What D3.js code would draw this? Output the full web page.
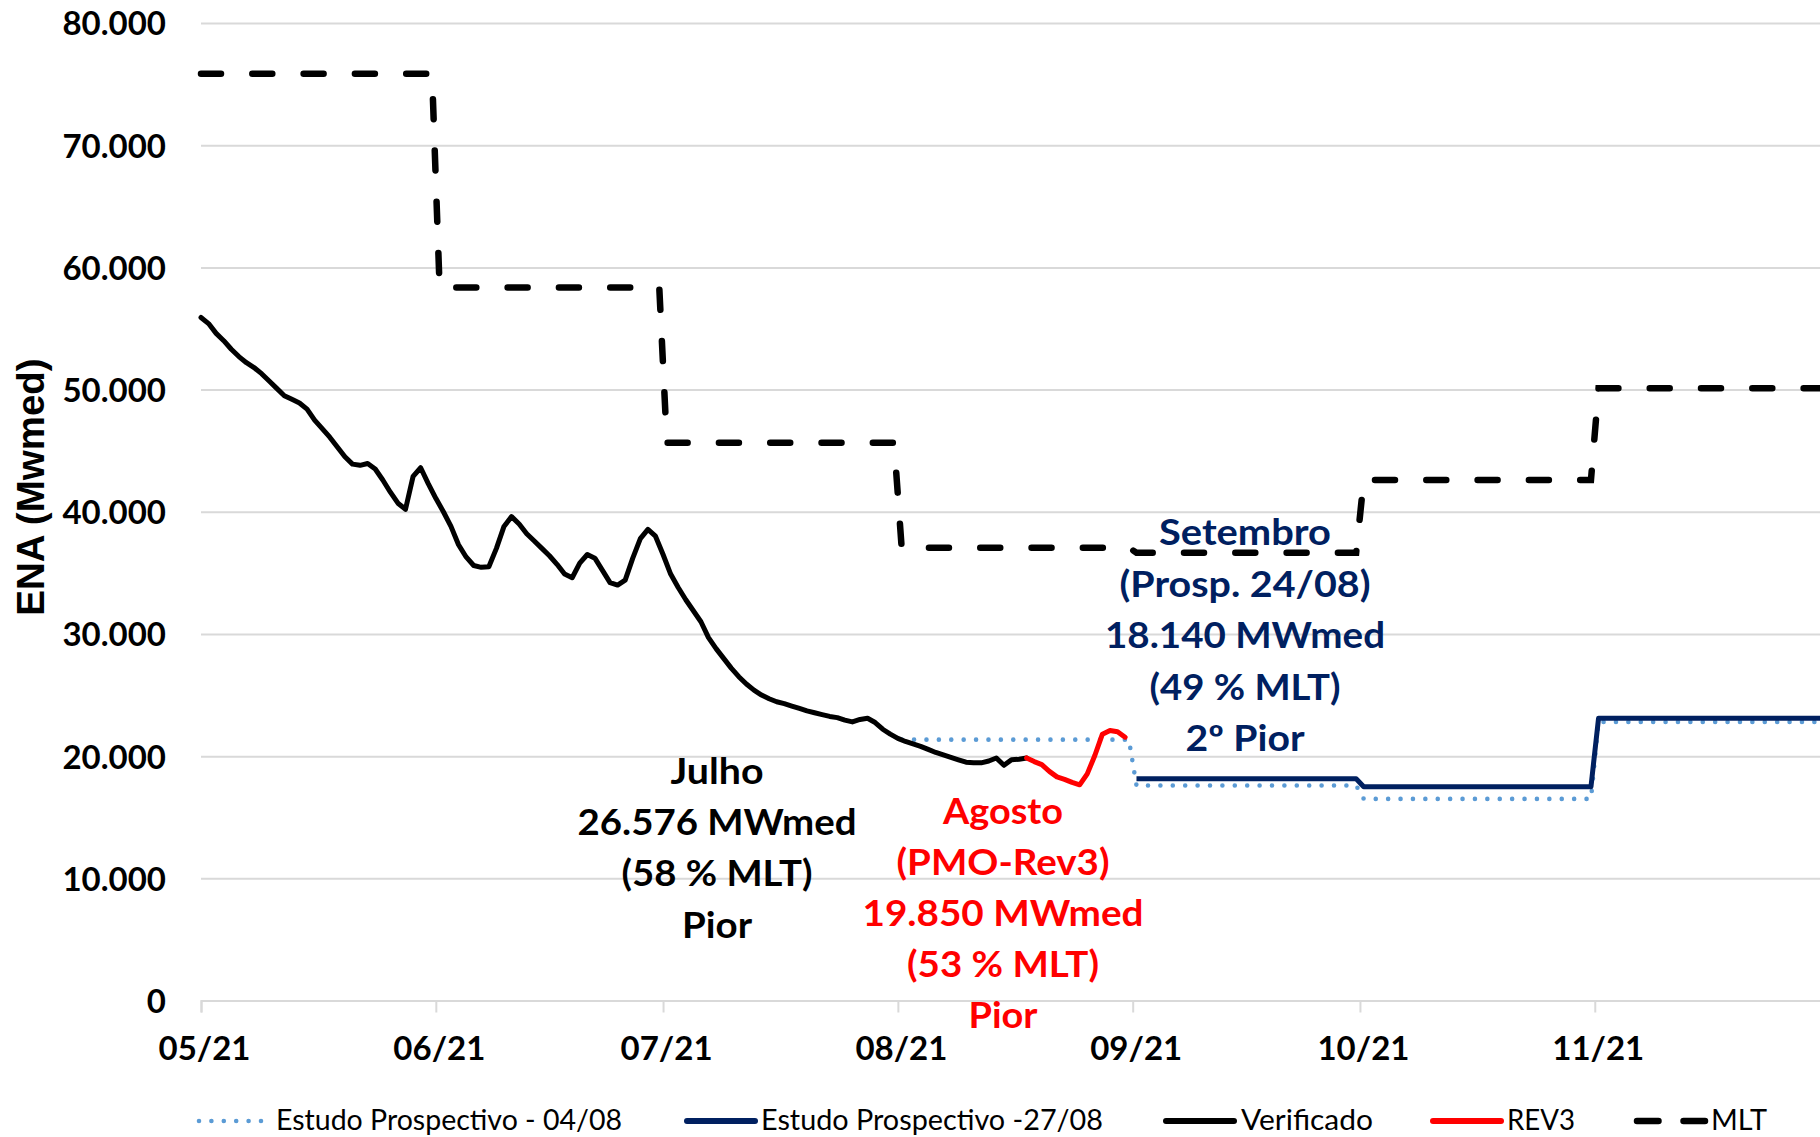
<!DOCTYPE html>
<html>
<head>
<meta charset="utf-8">
<script src="https://cdn.jsdelivr.net/npm/d3@7"></script>
<style>
  html, body { margin: 0; padding: 0; background: #ffffff; }
  svg { display: block; }
</style>
</head>
<body>
<svg id="chart" width="1820" height="1137"></svg>
<script>
// ---------------- DATA ----------------
const monthLabels = ["05/21", "06/21", "07/21", "08/21", "09/21", "10/21", "11/21"];
const yTickValues = [0, 10000, 20000, 30000, 40000, 50000, 60000, 70000, 80000];

// Verificado (daily, from 2021-05-01)
const verificadoStart = "2021-05-01";
const verificado = [
  55900, 55400, 54600, 54000, 53300, 52700, 52200, 51800, 51300, 50700,
  50100, 49500, 49200, 48900, 48400, 47500, 46800, 46100, 45300, 44500,
  43900, 43800, 43950, 43500, 42600, 41600, 40700, 40200, 42900, 43600,
  42300, 41100, 40000, 38800, 37300, 36300, 35600, 35450, 35500, 37000,
  38800, 39600, 39000, 38200, 37600, 37000, 36400, 35700, 34900, 34600,
  35800, 36500, 36200, 35200, 34200, 34000, 34400, 36200, 37800, 38550,
  38000, 36500, 34900, 33800, 32800, 31900, 31000, 29700, 28800, 28000,
  27200, 26500, 25900, 25400, 25000, 24700, 24450, 24300, 24100, 23900,
  23700, 23550, 23400, 23250, 23150, 22950, 22800, 23000, 23100, 22750,
  22200, 21800, 21450, 21200, 21000, 20800, 20550, 20300, 20100, 19900,
  19700, 19500, 19450, 19450, 19600, 19850, 19250, 19700, 19750, 19850
];

// REV3 (daily, from 2021-08-18)
const rev3Start = "2021-08-18";
const rev3 = [19850, 19550, 19300, 18750, 18300, 18100, 17850, 17650, 18550, 20050, 21800, 22100, 22000, 21550];

// MLT (monthly, May..Nov)
const mltMonths = ["2021-05", "2021-06", "2021-07", "2021-08", "2021-09", "2021-10", "2021-11"];
const mltValues = [75850, 58350, 45650, 37050, 36650, 42600, 50100];

// Estudo Prospectivo - 04/08 (monthly, Aug..Nov)
const prosp0408Months = ["2021-08", "2021-09", "2021-10", "2021-11"];
const prosp0408Values = [21350, 17600, 16500, 22800];

// Estudo Prospectivo -27/08 (monthly, Sep..Nov)
const prosp2708Months = ["2021-09", "2021-10", "2021-11"];
const prosp2708Values = [18140, 17500, 23100];

const legendNames = ["Estudo Prospectivo - 04/08", "Estudo Prospectivo -27/08", "Verificado", "REV3", "MLT"];

const julhoLines = ["Julho", "26.576 MWmed", "(58 % MLT)", "Pior"];
const agostoLines = ["Agosto", "(PMO-Rev3)", "19.850 MWmed", "(53 % MLT)", "Pior"];
const setembroLines = ["Setembro", "(Prosp. 24/08)", "18.140 MWmed", "(49 % MLT)", "2º Pior"];

const yTitle = "ENA (Mwmed)";

// ---------------- STYLE / LAYOUT ----------------
const W = 1820, H = 1137;
const plot = { left: 201, right: 1822, top: 23, bottom: 1000.5 };
const C = {
  grid: "#d9d9d9", black: "#000000", red: "#ff0000", navy: "#002060", lightBlue: "#5b9bd5"
};
const FONT = "Lato, 'Open Sans', sans-serif";

const svg = d3.select("#chart");
svg.append("rect").attr("width", W).attr("height", H).attr("fill", "#fff");

const parseDay = d3.utcParse("%Y-%m-%d");
const parseMonth = d3.utcParse("%Y-%m");
const DAY = 86400000;

const x = d3.scaleUtc()
  .domain([parseDay("2021-05-01"), parseDay("2021-12-01")])
  .range([plot.left, plot.right]);
const y = d3.scaleLinear().domain([0, 80000]).range([plot.bottom, plot.top]);

const locale = d3.formatLocale({ decimal: ",", thousands: ".", grouping: [3], currency: ["", ""] });
const fmt = locale.format(",d");

// Y axis + gridlines
const yAxis = d3.axisLeft(y)
  .tickValues(yTickValues)
  .tickSize(-(plot.right - plot.left))
  .tickPadding(35)
  .tickFormat(fmt);
const gy = svg.append("g").attr("transform", `translate(${plot.left},0)`).call(yAxis);
gy.select(".domain").remove();
gy.selectAll(".tick line").attr("stroke", C.grid).attr("stroke-width", 2);
gy.selectAll(".tick text")
  .attr("font-family", FONT).attr("font-weight", 700).attr("font-size", 33)
  .attr("fill", "#000").attr("dy", "0.36em");

// X axis
const monthDates = monthLabels.map((_, i) => d3.utcMonth.offset(parseDay("2021-05-01"), i));
const xAxis = d3.axisBottom(x)
  .tickValues(monthDates)
  .tickSize(12)
  .tickFormat((d, i) => monthLabels[i]);
const gx = svg.append("g").attr("transform", `translate(0,${plot.bottom})`).call(xAxis);
gx.select(".domain").attr("stroke", C.grid).attr("stroke-width", 2);
gx.selectAll(".tick line").attr("stroke", C.grid).attr("stroke-width", 2);
gx.selectAll(".tick text")
  .attr("font-family", FONT).attr("font-weight", 700).attr("font-size", 33)
  .attr("fill", "#000").attr("y", 47.5).attr("dy", "0.36em").attr("dx", 3);

// Y title
svg.append("text")
  .attr("transform", `translate(44,487) rotate(-90)`)
  .attr("text-anchor", "middle")
  .attr("font-family", "'Liberation Sans', Arial, sans-serif")
  .attr("font-weight", 700).attr("font-size", 38.5)
  .text(yTitle);

// ---------------- SERIES ----------------
const line = d3.line().x(d => x(d[0])).y(d => y(d[1]));

function dailyPoints(start, values) {
  const s = parseDay(start);
  return values.map((v, i) => [new Date(s.getTime() + i * DAY), v]);
}
function stepPoints(months, values, firstOffsetDays) {
  const pts = [];
  months.forEach((m, i) => {
    const s = parseMonth(m);
    const e = d3.utcMonth.offset(s, 1);
    const off = (i === 0) ? firstOffsetDays : 0.5;
    pts.push([new Date(s.getTime() + off * DAY), values[i]]);
    pts.push([new Date(e.getTime() - 0.5 * DAY), values[i]]);
  });
  const lastMonthEnd = d3.utcMonth.offset(parseMonth(months[months.length - 1]), 1);
  pts[pts.length - 1] = [lastMonthEnd, values[values.length - 1]];
  return pts;
}

const g = svg.append("g").attr("fill", "none");

// MLT
g.append("path")
  .datum(stepPoints(mltMonths, mltValues, 0))
  .attr("d", line)
  .attr("stroke", C.black).attr("stroke-width", 6.5)
  .attr("stroke-dasharray", "20 31.3").attr("stroke-linecap", "round");

// Prospectivo 04/08 (dotted)
g.append("path")
  .datum(stepPoints(prosp0408Months, prosp0408Values, 0.5))
  .attr("d", line)
  .attr("stroke", C.lightBlue).attr("stroke-width", 4.6)
  .attr("stroke-dasharray", "0 12.4").attr("stroke-linecap", "round");

// Prospectivo 27/08 (navy)
g.append("path")
  .datum(stepPoints(prosp2708Months, prosp2708Values, 0.5))
  .attr("d", line)
  .attr("stroke", C.navy).attr("stroke-width", 5)
  .attr("stroke-linejoin", "round");

// Verificado
g.append("path")
  .datum(dailyPoints(verificadoStart, verificado))
  .attr("d", line)
  .attr("stroke", C.black).attr("stroke-width", 5)
  .attr("stroke-linejoin", "round").attr("stroke-linecap", "round");

// REV3
g.append("path")
  .datum(dailyPoints(rev3Start, rev3))
  .attr("d", line)
  .attr("stroke", C.red).attr("stroke-width", 5)
  .attr("stroke-linejoin", "round").attr("stroke-linecap", "round");

// ---------------- ANNOTATIONS ----------------
function block(lines, cx, firstBaseline, lh, color, widths) {
  const t = svg.append("g");
  lines.forEach((s, i) => {
    const el = t.append("text")
      .attr("x", cx).attr("y", firstBaseline + i * lh)
      .attr("text-anchor", "middle")
      .attr("font-family", FONT).attr("font-weight", 700).attr("font-size", 36)
      .attr("fill", color).text(s);
    if (widths && widths[i]) el.attr("textLength", widths[i]).attr("lengthAdjust", "spacingAndGlyphs");
  });
}
block(julhoLines, 717, 784, 51.2, C.black, [93, 279, 191, 70]);
block(agostoLines, 1003, 824, 51.1, C.red, [120, 213, 281, 192, 69]);
block(setembroLines, 1245, 545, 51.5, C.navy, [172, 251, 280, 191, 119]);

// ---------------- LEGEND ----------------
const legendY = 1121;
const legendItems = [
  { sx: 199, ex: 264, tx: 276, tw: 346, stroke: C.lightBlue, sw: 4.6, dash: "0 12.4", cap: "round" },
  { sx: 687, ex: 755, tx: 761, tw: 342, stroke: C.navy, sw: 6, dash: null, cap: "round" },
  { sx: 1166, ex: 1234, tx: 1241, tw: 132, stroke: C.black, sw: 6, dash: null, cap: "round" },
  { sx: 1433, ex: 1501, tx: 1507, tw: 68, stroke: C.red, sw: 6, dash: null, cap: "round" },
  { sx: 1637, ex: 1705, tx: 1711, tw: 56, stroke: C.black, sw: 6.5, dash: "21.5 25", cap: "round" }
];
const lg = svg.append("g");
legendItems.forEach((it, i) => {
  const l = lg.append("line")
    .attr("x1", it.sx).attr("x2", it.ex).attr("y1", legendY).attr("y2", legendY)
    .attr("stroke", it.stroke).attr("stroke-width", it.sw).attr("stroke-linecap", it.cap);
  if (it.dash) l.attr("stroke-dasharray", it.dash);
  lg.append("text")
    .attr("x", it.tx).attr("y", legendY + 9)
    .attr("font-family", FONT).attr("font-size", 29).attr("fill", "#000")
    .attr("textLength", it.tw).attr("lengthAdjust", "spacingAndGlyphs")
    .text(legendNames[i]);
});
</script>
</body>
</html>
